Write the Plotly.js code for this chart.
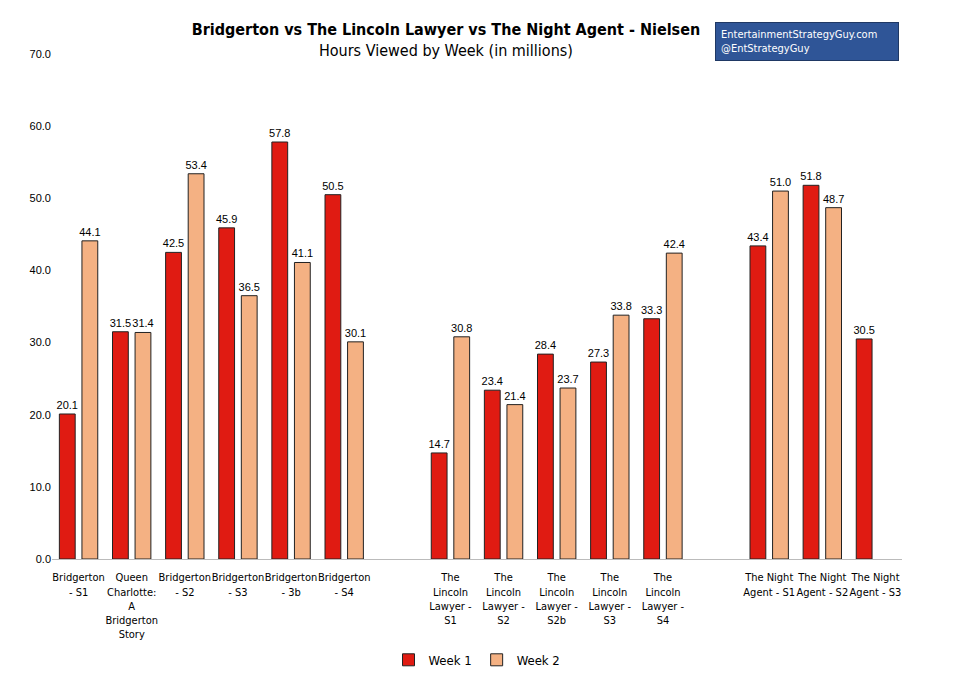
<!DOCTYPE html>
<html><head><script src="https://cdn.plot.ly/plotly-3.0.1.min.js"></script></head>
<body style="margin:0"><div id="c" style="width:959px;height:698px"></div>
<script>
const categories = ["Bridgerton<br>- S1","Queen<br>Charlotte:<br>A<br>Bridgerton<br>Story","Bridgerton<br>- S2","Bridgerton<br>- S3","Bridgerton<br>- 3b","Bridgerton<br>- S4"," ",
"The<br>Lincoln<br>Lawyer -<br>S1","The<br>Lincoln<br>Lawyer -<br>S2","The<br>Lincoln<br>Lawyer -<br>S2b","The<br>Lincoln<br>Lawyer -<br>S3","The<br>Lincoln<br>Lawyer -<br>S4","  ",
"The Night<br>Agent - S1","The Night<br>Agent - S2","The Night<br>Agent - S3"];
const week1 = [20.1,31.5,42.5,45.9,57.8,50.5,null,14.7,23.4,28.4,27.3,33.3,null,43.4,51.8,30.5];
const week2 = [44.1,31.4,53.4,36.5,41.1,30.1,null,30.8,21.4,23.7,33.8,42.4,null,51.0,48.7,null];
const yTicks = [0,10,20,30,40,50,60,70];
const cond = 'DejaVu Sans Condensed, Liberation Sans, Arial';
const mk = (name, y, color) => ({type:'bar', name, x:categories, y,
  marker:{color, line:{color:'#222', width:1}},
  texttemplate:'%{y:.1f}', textposition:'outside', cliponaxis:false, constraintext:'none',
  textfont:{family:'Liberation Sans, Arial', size:11, color:'#000'}});
Plotly.newPlot('c', [mk('Week 1', week1, '#e01b12'), mk('Week 2', week2, '#f4b183')], {
  width:959, height:698, barmode:'group', bargap:0.15, bargroupgap:0.3,
  margin:{l:52, r:57, t:54, b:139},
  paper_bgcolor:'#fff', plot_bgcolor:'#fff',
  font:{family:'Liberation Sans, Arial', size:12, color:'#000'},
  title:{text:'<b>Bridgerton vs The Lincoln Lawyer vs The Night Agent - Nielsen</b><br><span style="font-size:16px">Hours Viewed by Week (in millions)</span>',
    x:0.465, xanchor:'center', y:0.95, yanchor:'top', font:{family:cond, size:16}},
  xaxis:{type:'category', categoryarray:categories, showline:true, linecolor:'#bbb', ticks:'', tickangle:0,
    ticklabelstandoff:8, tickfont:{family:cond, size:11}},
  yaxis:{range:[0,70], tickvals:yTicks, tickformat:'.1f', showgrid:false, zeroline:false, showline:false,
    tickfont:{size:11}},
  legend:{orientation:'h', x:0.5, xanchor:'center', y:-0.17, yanchor:'top', font:{family:cond, size:13}},
  annotations:[{xref:'paper', yref:'paper', x:0.78, y:1.063, xanchor:'left', yanchor:'top',
    text:'EntertainmentStrategyGuy.com<br>@EntStrategyGuy', align:'left', showarrow:false,
    bgcolor:'#2f5597', bordercolor:'#1f3864', borderwidth:1, borderpad:5, width:172,
    font:{family:cond, size:11, color:'#fff'}}]
}, {displayModeBar:false});
</script></body></html>
